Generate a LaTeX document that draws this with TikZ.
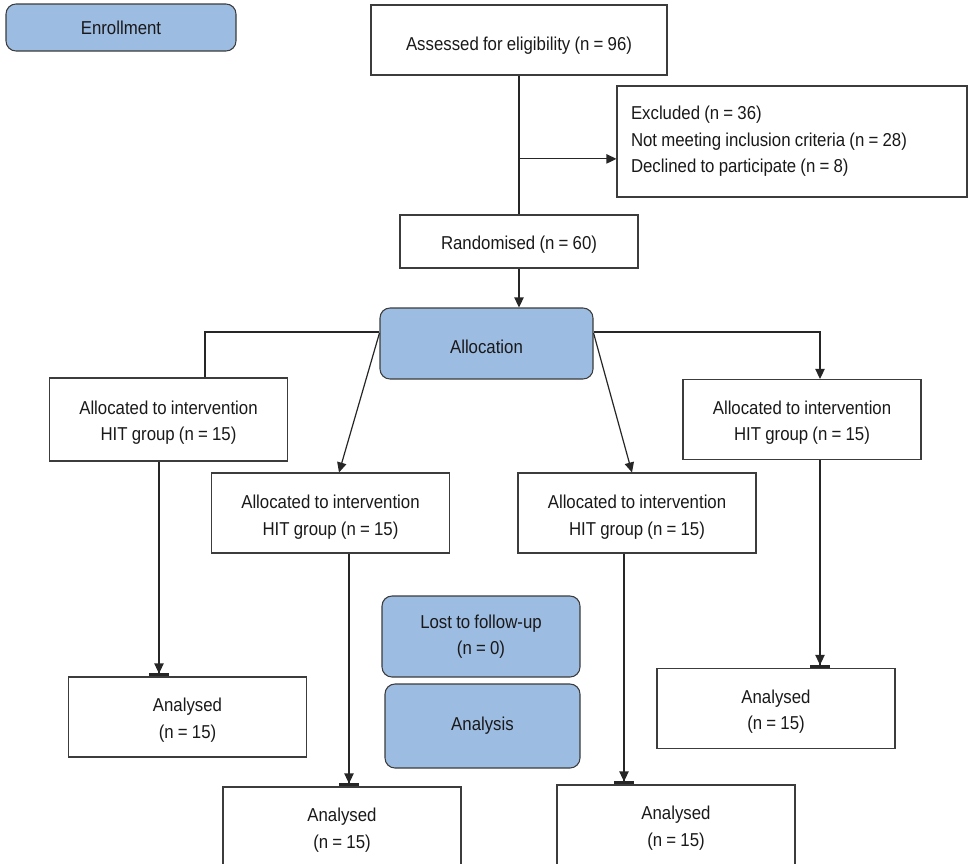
\documentclass[tikz,border=0pt]{standalone}
\usepackage{fontspec}
\setmainfont{Liberation Sans}[FakeStretch=0.9,WordSpace=0.9]
\usetikzlibrary{arrows.meta,calc}
\definecolor{phaseblue}{HTML}{9DBCE2}
\definecolor{boxline}{HTML}{3C3C3C}
\begin{document}
\begin{tikzpicture}[x=0.75pt,y=-0.75pt,
	box/.style={draw=boxline,line width=0.8pt,rectangle,align=center,inner sep=0pt,font=\fontsize{14}{20}\selectfont,text=black!90},
	lowered/.style={execute at begin node={\rule{0pt}{#1}}},
	lowered/.default=14.8pt,
	group/.style={box,lowered,text width=178.5pt,align=flush center,minimum width=178.5pt,minimum height=60pt},
	phase/.style={box,fill=phaseblue,rounded corners=7.5pt},
	link/.style={line width=0.9pt,draw=black!85},
	arrow/.style={link,-{Triangle[length=7.5pt,width=7pt]}},
	endarrow/.style={link,-{Triangle[length=7.5pt,width=7pt]Bar[width=15pt,line width=2.25pt]}}]
	
	\useasboundingbox (0,0) rectangle (968,864);
	\clip (0,0) rectangle (968,864);
	
	%enrollment
	\node[phase,minimum width=172.5pt,minimum height=35.25pt](enroll) at (121,27.5) {Enrollment};
	\node[box,lowered=19pt,minimum width=222pt,minimum height=52.5pt](assess) at (519,40) {Assessed for eligibility (n = 96)};
	\node[box,minimum width=262.5pt,minimum height=83.25pt,text width=241.5pt,align=flush left](excl) at (792,141.5) {Excluded (n = 36)\\Not meeting inclusion criteria (n = 28)\\Declined to participate (n = 8)};
	\node[box,lowered,minimum width=178.5pt,minimum height=39.75pt](rand) at (519,241.5) {Randomised (n = 60)};
	%allocation
	\node[phase,lowered,minimum width=159.75pt,minimum height=53.25pt](alloc) at (486.5,343.5) {Allocation};
	\node[group,lowered=10pt,minimum height=62.25pt](g1) at (168.5,419.5) {Allocated to intervention\\HIT group (n = 15)};
	\node[group,lowered=16pt](g2) at (330.5,513) {Allocated to intervention\\HIT group (n = 15)};
	\node[group,lowered=16pt](g3) at (637,513) {Allocated to intervention\\HIT group (n = 15)};
	\node[group](g4) at (802,419.5) {Allocated to intervention\\HIT group (n = 15)};
	%follow-up and analysis
	\node[phase,minimum width=148.5pt,minimum height=60.75pt](lost) at (481,636.5) {Lost to follow-up\\(n = 0)};
	\node[phase,minimum width=146.25pt,minimum height=63pt](analysis) at (482.5,726) {Analysis};
	\node[group](a1) at (187.5,717) {Analysed\\(n = 15)};
	\node[group](a2) at (342,827) {Analysed\\(n = 15)};
	\node[group](a3) at (676,825) {Analysed\\(n = 15)};
	\node[group](a4) at (776,708.5) {Analysed\\(n = 15)};
	
	%enrollment arrows
	\draw[link] (assess) -- (rand);
	\coordinate (split) at ($(assess.south)!0.6!(rand.north)$);
	\draw[arrow] (split) -- (split -| excl.west);
	\draw[arrow] (rand.south) -- (rand.south |- alloc.north);
	%allocation arrows
	\draw[link] ($(alloc.west)+(0,-11.5)$) -| ($(g1.north)+(36.5,0)$);
	\draw[arrow] ($(alloc.west)+(0,-10.5)$) -- ($(g2.north)+(8.5,0)$);
	\draw[arrow] ($(alloc.east)+(0,-10.5)$) -- ($(g3.north)+(-5,0)$);
	\draw[arrow] ($(alloc.east)+(0,-11.5)$) -| ($(g4.north)+(18,0)$);
	%analysis arrows
	\coordinate (d1) at ($(g1.south)+(-9.5,0)$);
	\coordinate (d2) at ($(g2.south)+(18.5,0)$);
	\coordinate (d3) at ($(g3.south)+(-13,0)$);
	\coordinate (d4) at ($(g4.south)+(18,0)$);
	\draw[endarrow] (d1) -- (d1 |- a1.north);
	\draw[endarrow] (d2) -- (d2 |- a2.north);
	\draw[endarrow] (d3) -- (d3 |- a3.north);
	\draw[endarrow] (d4) -- (d4 |- a4.north);
\end{tikzpicture}
\end{document}
